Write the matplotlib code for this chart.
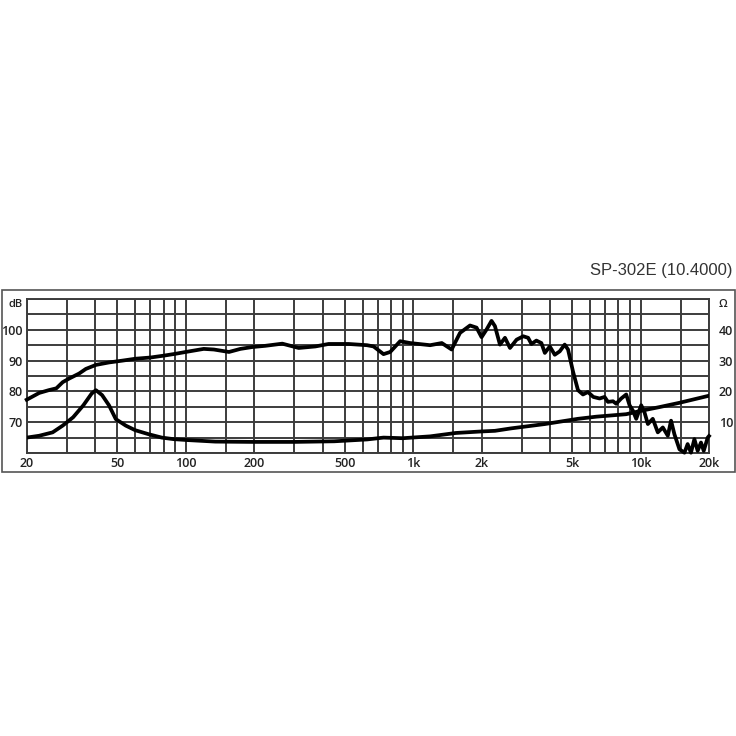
import matplotlib
matplotlib.use("Agg")
import matplotlib.pyplot as plt
from matplotlib.patches import Rectangle
from matplotlib.ticker import NullFormatter

# frequency response (dB)
spl_freq = [20, 22.7, 25, 27, 28.8, 30.8, 34, 36.4, 40.3, 46, 52.8, 60, 70, 80, 90,
            100, 120, 133, 155, 174, 196, 224, 266, 314, 372, 425, 520, 627, 670,
            741, 793, 877, 970, 1188, 1337, 1477, 1608, 1779, 1901, 2000, 2104,
            2212, 2290, 2409, 2535, 2667, 2852, 3050, 3205, 3314, 3484, 3664, 3795,
            3990, 4196, 4412, 4640, 4800, 5049, 5309, 5583, 5871, 6200, 6606, 6948,
            7188, 7567, 7816, 8223, 8651, 8950, 9247, 9571, 10070, 10400, 10770,
            11320, 11910, 12530, 13180, 13620, 14090, 14830, 15600, 16110, 16660,
            17250, 17830, 18440, 18960, 19740, 20000]
spl_db = [77.3, 79.5, 80.4, 81.0, 83.0, 84.2, 85.8, 87.3, 88.6, 89.4, 90.0, 90.6, 91.0,
          91.6, 92.2, 92.8, 93.8, 93.6, 92.8, 93.8, 94.4, 94.8, 95.5, 94.1, 94.6, 95.4,
          95.4, 95.0, 94.6, 92.1, 92.8, 96.3, 95.7, 95.0, 95.7, 93.6, 99.0, 101.4, 100.7,
          97.6, 100.1, 102.9, 101.2, 95.2, 97.4, 94.1, 96.8, 97.9, 97.4, 95.4, 96.5,
          95.7, 92.5, 94.6, 91.9, 93.0, 95.2, 93.6, 86.4, 80.4, 79.0, 79.8, 78.2, 77.7,
          78.2, 76.6, 76.8, 76.0, 77.7, 79.0, 75.5, 73.8, 71.1, 75.5, 73.3, 69.4, 71.1,
          66.7, 68.3, 65.6, 70.5, 66.1, 61.2, 60.1, 62.9, 60.1, 64.5, 60.7, 63.4, 60.7,
          65.0, 65.5]

# impedance (ohm)
imp_freq = [20, 22.7, 26, 28.8, 32, 35.5, 38.6, 40.3, 42.9, 46, 49.3, 54.5, 60, 68.7,
            78.5, 88.5, 101.7, 135, 196, 300, 450, 627, 741, 900, 1188, 1540, 2000,
            2290, 2700, 3795, 5309, 6400, 8651, 10200, 12100, 14830, 20000]
imp_ohm = [5.0, 5.6, 6.7, 8.9, 11.6, 15.5, 19.3, 20.4, 18.8, 15.5, 11.0, 8.9, 7.4, 6.1,
           5.0, 4.5, 4.2, 3.7, 3.6, 3.6, 3.8, 4.4, 5.0, 4.8, 5.4, 6.5, 7.0, 7.2, 8.0,
           9.4, 11.1, 11.8, 12.6, 13.8, 14.9, 16.3, 18.6]

x_labels = ["20", "50", "100", "200", "500", "1k", "2k", "5k", "10k", "20k"]
x_label_freq = [20, 50, 100, 200, 500, 1000, 2000, 5000, 10000, 20000]
x_grid_freq = [30, 40, 60, 70, 80, 90, 150, 300, 400, 600, 700, 800, 900,
               1500, 3000, 4000, 6000, 7000, 8000, 9000, 15000]
db_ticks = list(range(60, 111, 5))
db_labels = ["", "", "70", "", "80", "", "90", "", "100", "", "dB"]
ohm_ticks = list(range(0, 51, 5))
ohm_labels = ["", "", "10", "", "20", "", "30", "", "40", "", "\u03a9"]

grid_col = "#3c3c3c"
txt_col = "#222222"
fnt = ["Open Sans", "DejaVu Sans"]


def style_labels(labels):
    for lab in labels:
        lab.set_family(fnt)
        lab.set_fontsize(9)
        lab.set_fontweight("semibold")
        lab.set_color(txt_col)


fig = plt.figure(figsize=(7.36, 7.36), dpi=100)
ax = fig.add_axes([26.7 / 736, 1 - 453 / 736, 682.3 / 736, 154 / 736])
ax.set_xscale("log")
ax.set_xlim(20, 20000)
ax.set_ylim(60, 110)

ax.set_xticks(x_label_freq)
ax.set_xticklabels(x_labels)
ax.set_xticks(x_grid_freq, minor=True)
ax.xaxis.set_minor_formatter(NullFormatter())
ax.set_yticks(db_ticks)
ax.set_yticklabels(db_labels)
ax.tick_params(which="both", length=0)
ax.tick_params(axis="x", pad=3)
ax.tick_params(axis="y", pad=3)
ax.grid(True, which="both", color=grid_col, linewidth=1.4)
for s in ax.spines.values():
    s.set_color(grid_col)
    s.set_linewidth(1.4)
style_labels(ax.get_xticklabels() + ax.get_yticklabels())
ax.get_yticklabels()[-1].set_verticalalignment("top")
ax.get_yticklabels()[-1].set_fontsize(8)

ax.plot(spl_freq, spl_db, color="black", linewidth=2.7,
        solid_joinstyle="round", clip_on=False, zorder=5)

ax2 = ax.twinx()
ax2.set_ylim(0, 50)
ax2.set_yticks(ohm_ticks)
ax2.set_yticklabels(ohm_labels)
ax2.tick_params(length=0, pad=7)
for s in ax2.spines.values():
    s.set_visible(False)
style_labels(ax2.get_yticklabels())
ax2.get_yticklabels()[-1].set_verticalalignment("top")
ax2.get_yticklabels()[-1].set_fontsize(8)
ax2.plot(imp_freq, imp_ohm, color="black", linewidth=2.7,
         solid_joinstyle="round", zorder=5)

# outer frame around the chart
fig.patches.append(Rectangle((1.5 / 736, 1 - 472 / 736), 733 / 736, 182 / 736,
                             transform=fig.transFigure, fill=False,
                             edgecolor="#555555", linewidth=1.2))

fig.text(733 / 736, 1 - 271 / 736, "SP-302E (10.4000)", ha="right", va="center",
         fontsize=12, family=["Liberation Sans", "DejaVu Sans"], color="#333333")

fig.savefig("out.png", dpi=100)
